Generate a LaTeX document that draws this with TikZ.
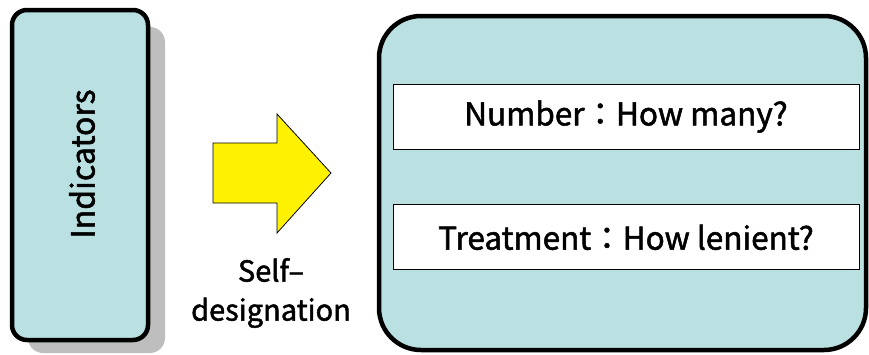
\documentclass[tikz,border=0pt]{standalone}
\usepackage{fontspec}
\setmainfont{Noto Sans CJK JP}[FakeBold=1.6]
\usetikzlibrary{positioning}

\definecolor{boxblue}{RGB}{186,224,226}
\definecolor{shadowgray}{RGB}{190,190,190}

\tikzset{
    panel/.style={draw=black, line width=4.5pt, fill=boxblue},
    qbox/.style={draw=black, line width=0.8pt, fill=white, inner sep=0pt,
                 minimum width=466pt, minimum height=65pt, font=\fontsize{31.5}{36}\selectfont},
}

\begin{document}
\begin{tikzpicture}[x=1pt, y=-1pt]
            \useasboundingbox (0,0) rectangle (869,354);

            % left panel with its shadow
            \fill[shadowgray, rounded corners=15pt] (28,27) rectangle (165,353);
            \draw[panel, rounded corners=15pt] (12,10) rectangle (148,340);
            \node[rotate=90, font=\fontsize{32}{36}\selectfont] (indicators) at (82,164) {Indicators};

            % block arrow
            \filldraw[fill=yellow, draw=black, line width=0.8pt]
                (213,143) -- (277,143) -- (277,114) -- (331,173)
                -- (277,233) -- (277,203) -- (213,203) -- cycle;
            \node[align=center, font=\fontsize{29}{39}\selectfont] (selfdes) at (271,293) {Self–\\designation};

            % right panel
            \draw[panel, rounded corners=42pt] (379,16) rectangle (866,350);
            \node[qbox] (number) at (626,116.5) {\raisebox{-3pt}{Number：How many?}};
            \node[qbox, below=55pt of number] (treatment) {\raisebox{-3pt}{Treatment：How lenient?}};
        \end{tikzpicture}
\end{document}
